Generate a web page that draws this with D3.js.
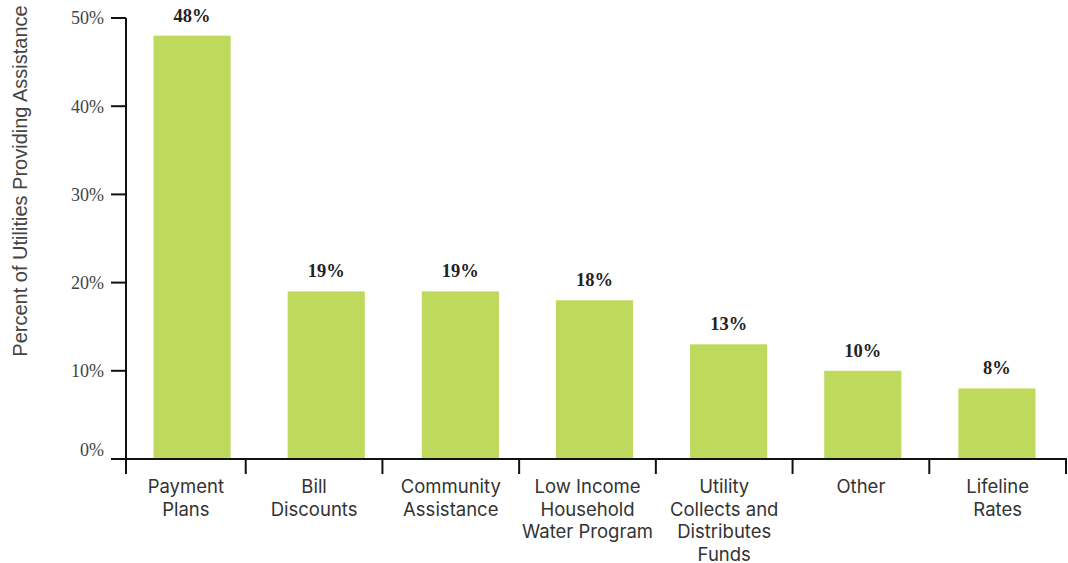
<!DOCTYPE html>
<html>
<head>
<meta charset="utf-8">
<script src="https://cdn.jsdelivr.net/npm/d3@7"></script>
<style>
  html, body { margin: 0; padding: 0; background: #fff; }
  svg { display: block; }
</style>
</head>
<body>
<svg id="chart" width="1068" height="563"></svg>
<script>
// Share of utilities offering each type of customer assistance
const categories = [
  ["Payment", "Plans"],
  ["Bill", "Discounts"],
  ["Community", "Assistance"],
  ["Low Income", "Household", "Water Program"],
  ["Utility", "Collects and", "Distributes", "Funds"],
  ["Other"],
  ["Lifeline", "Rates"]
];
const values = [48, 19, 19, 18, 13, 10, 8];
const yTicks = [0, 10, 20, 30, 40, 50];
const yTitle = "Percent of Utilities Providing Assistance";

const keys = categories.map(c => c.join(" "));
const svg = d3.select("#chart");

const axisX = 126, baseY = 459, topY = 18;

const y = d3.scaleLinear().domain([0, 50]).range([baseY, topY]);

// bars
const x = d3.scaleBand().domain(keys).range([125, 1064])
  .paddingInner(0.425).paddingOuter(0.2125);

// category slots along the x axis (first slot is cut by the y axis)
const slot = d3.scaleBand().domain(keys).range([109, 1066]);
const edges = keys.map(k => Math.max(axisX, slot(k))).concat([slot.range()[1]]);

// y axis
const yAxis = svg.append("g");
yAxis.append("line")
  .attr("x1", axisX).attr("x2", axisX)
  .attr("y1", y(50)).attr("y2", baseY + 15)
  .attr("stroke", "#111").attr("stroke-width", 2);
yAxis.selectAll("line.tick").data(yTicks.filter(t => t > 0)).join("line")
  .attr("class", "tick")
  .attr("x1", axisX - 15).attr("x2", axisX)
  .attr("y1", d => y(d)).attr("y2", d => y(d))
  .attr("stroke", "#111").attr("stroke-width", 2);
yAxis.selectAll("text").data(yTicks).join("text")
  .attr("x", 104)
  .attr("y", d => d === 0 ? y(d) - 9 : y(d))
  .attr("dy", "0.35em")
  .attr("text-anchor", "end")
  .attr("font-family", "'Liberation Serif', serif")
  .attr("font-size", 18)
  .attr("fill", "#444")
  .text(d => d + "%");

svg.append("text")
  .attr("transform", `translate(27,181) rotate(-90)`)
  .attr("text-anchor", "middle")
  .attr("font-family", "'Liberation Sans', Arial, sans-serif")
  .attr("font-size", 20)
  .attr("fill", "#444")
  .text(yTitle);

// bars
svg.append("g").selectAll("rect").data(values).join("rect")
  .attr("x", (d, i) => x(keys[i]))
  .attr("y", d => y(d))
  .attr("width", x.bandwidth())
  .attr("height", d => baseY - y(d))
  .attr("fill", "#bed95b");

// value labels
svg.append("g").selectAll("text").data(values).join("text")
  .attr("x", (d, i) => x(keys[i]) + x.bandwidth() / 2)
  .attr("y", d => y(d) - 14)
  .attr("text-anchor", "middle")
  .attr("font-family", "'Liberation Serif', serif")
  .attr("font-weight", "bold")
  .attr("font-size", 18.5)
  .attr("fill", "#222")
  .text(d => d + "%");

// x axis
const xAxis = svg.append("g");
xAxis.append("line")
  .attr("x1", 111).attr("x2", edges[edges.length - 1] + 1)
  .attr("y1", baseY).attr("y2", baseY)
  .attr("stroke", "#111").attr("stroke-width", 2);
xAxis.selectAll("line.tick").data(edges.slice(1)).join("line")
  .attr("class", "tick")
  .attr("x1", d => d).attr("x2", d => d)
  .attr("y1", baseY).attr("y2", baseY + 15)
  .attr("stroke", "#111").attr("stroke-width", 2);

const labels = xAxis.selectAll("text").data(categories).join("text")
  .attr("x", (d, i) => (edges[i] + edges[i + 1]) / 2)
  .attr("y", 493)
  .attr("text-anchor", "middle")
  .attr("font-family", "Inter, sans-serif")
  .attr("font-size", 18.5)
  .attr("fill", "#333");
labels.selectAll("tspan").data(d => d).join("tspan")
  .attr("x", function() { return d3.select(this.parentNode).attr("x"); })
  .attr("dy", (d, i) => i === 0 ? 0 : 22.5)
  .text(d => d);
</script>
</body>
</html>
